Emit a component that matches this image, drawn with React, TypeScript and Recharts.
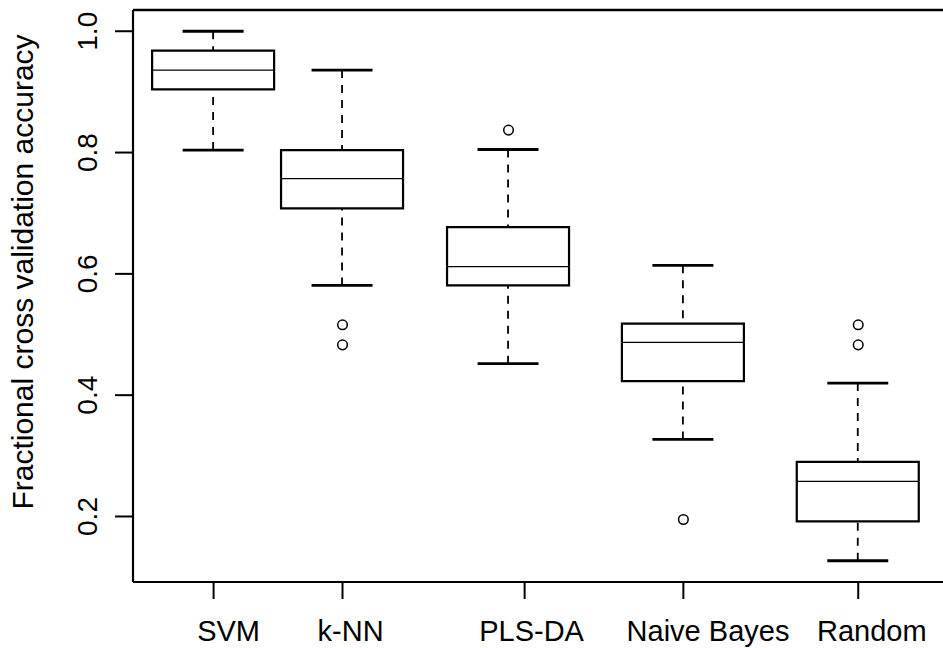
import {
  ComposedChart,
  Bar,
  Scatter,
  XAxis,
  YAxis,
  ReferenceLine,
} from 'recharts';

// methods and where they sit on the x axis (axis units, xlim starts at 0.5)
const categories = ['SVM', 'k-NN', 'PLS-DA', 'Naive Bayes', 'Random'];
const boxPos = [1, 1.8, 2.83, 3.915, 5];
const tickPos = [1, 1.8, 2.93, 3.915, 5];
const labelPos = [1.093, 1.85, 2.973, 4.068, 5.084];

// five-number summaries
const whiskerLow = [0.804, 0.581, 0.452, 0.327, 0.127];
const q1 = [0.904, 0.708, 0.581, 0.423, 0.192];
const median = [0.936, 0.757, 0.612, 0.487, 0.258];
const q3 = [0.968, 0.804, 0.677, 0.518, 0.29];
const whiskerHigh = [1.0, 0.936, 0.805, 0.614, 0.42];

// outliers per method
const outlierValues = [[], [0.516, 0.483], [0.837], [0.195], [0.516, 0.483]];

const yTicks = [0.2, 0.4, 0.6, 0.8, 1.0];
const xDomain = [0.5, 5.526];
const yDomain = [0.092, 1.035];

const FONT = '"Liberation Sans", Arial, Helvetica, sans-serif';

const boxData = categories.map((name, i) => ({
  name,
  x: boxPos[i],
  base: whiskerLow[i],
  lowWhisker: q1[i] - whiskerLow[i],
  lowBox: median[i] - q1[i],
  highBox: q3[i] - median[i],
  highWhisker: whiskerHigh[i] - q3[i],
}));

const outliers = outlierValues.flatMap((vals, i) =>
  vals.map((v) => ({ x: boxPos[i], y: v }))
);

const Empty = () => <g />;

const LowWhisker = (p: any) => {
  const cx = p.x + p.width / 2;
  const cap = p.width / 4;
  return (
    <g>
      <line x1={cx} y1={p.y + p.height} x2={cx} y2={p.y} stroke="#000" strokeWidth={1.8} strokeDasharray="8 7" />
      <line x1={cx - cap} y1={p.y + p.height} x2={cx + cap} y2={p.y + p.height} stroke="#000" strokeWidth={2.8} />
    </g>
  );
};

const HighWhisker = (p: any) => {
  const cx = p.x + p.width / 2;
  const cap = p.width / 4;
  return (
    <g>
      <line x1={cx} y1={p.y} x2={cx} y2={p.y + p.height} stroke="#000" strokeWidth={1.8} strokeDasharray="8 7" />
      <line x1={cx - cap} y1={p.y} x2={cx + cap} y2={p.y} stroke="#000" strokeWidth={2.8} />
    </g>
  );
};

const LowBox = (p: any) => {
  const { x, y, width: w, height: h } = p;
  return (
    <g>
      <path d={`M${x},${y} L${x},${y + h} L${x + w},${y + h} L${x + w},${y}`} fill="none" stroke="#000" strokeWidth={2.2} />
      <line x1={x} y1={y} x2={x + w} y2={y} stroke="#000" strokeWidth={1.3} />
    </g>
  );
};

const HighBox = (p: any) => {
  const { x, y, width: w, height: h } = p;
  return (
    <path d={`M${x},${y + h} L${x},${y} L${x + w},${y} L${x + w},${y + h}`} fill="none" stroke="#000" strokeWidth={2.2} />
  );
};

const Outlier = (p: any) => (
  <circle cx={p.cx} cy={p.cy} r={4.8} fill="none" stroke="#000" strokeWidth={1.5} />
);

const YTick = (p: any) => (
  <text
    x={p.x}
    y={p.y}
    transform={`rotate(-90, ${p.x}, ${p.y})`}
    textAnchor="middle"
    fontFamily={FONT}
    fontSize={28}
    fill="#000"
  >
    {p.payload.value.toFixed(1)}
  </text>
);

const XLabel = (p: any) => {
  const i = labelPos.indexOf(p.payload.value);
  return (
    <text x={p.x} y={p.y} dy={56} textAnchor="middle" fontFamily={FONT} fontSize={29} fill="#000">
      {categories[i]}
    </text>
  );
};

const YTitle = () => (
  <text
    x={33}
    y={272}
    transform="rotate(-90, 33, 272)"
    textAnchor="middle"
    fontFamily={FONT}
    fontSize={30}
    fill="#000"
  >
    Fractional cross validation accuracy
  </text>
);

export default function App() {
  return (
    <div style={{ position: 'absolute', left: 0, top: 0, width: 943, height: 648, overflow: 'hidden', background: '#fff' }}>
      <ComposedChart width={943} height={648} data={boxData} margin={{ top: 10, right: 0, bottom: 0, left: 0 }}>
        <XAxis
          dataKey="x"
          type="number"
          domain={xDomain}
          ticks={tickPos}
          allowDataOverflow
          height={1}
          tickSize={17}
          tick={<Empty />}
          axisLine={{ stroke: '#000', strokeWidth: 2.2 }}
          tickLine={{ stroke: '#000', strokeWidth: 2 }}
        />
        <XAxis
          xAxisId="lab"
          dataKey="x"
          type="number"
          domain={xDomain}
          ticks={labelPos}
          allowDataOverflow
          height={65}
          tickSize={0}
          tickMargin={2}
          axisLine={false}
          tickLine={false}
          tick={<XLabel />}
        />
        <YAxis
          type="number"
          domain={yDomain}
          ticks={yTicks}
          allowDataOverflow
          width={133}
          tickSize={18}
          tickMargin={18}
          axisLine={{ stroke: '#000', strokeWidth: 2.2 }}
          tickLine={{ stroke: '#000', strokeWidth: 2 }}
          tick={<YTick />}
          label={{ content: <YTitle /> }}
        />
        <ReferenceLine y={yDomain[1]} stroke="#000" strokeWidth={2.6} />
        <Bar dataKey="base" stackId="box" barSize={122} shape={<Empty />} isAnimationActive={false} />
        <Bar dataKey="lowWhisker" stackId="box" barSize={122} shape={<LowWhisker />} isAnimationActive={false} />
        <Bar dataKey="lowBox" stackId="box" barSize={122} shape={<LowBox />} isAnimationActive={false} />
        <Bar dataKey="highBox" stackId="box" barSize={122} shape={<HighBox />} isAnimationActive={false} />
        <Bar dataKey="highWhisker" stackId="box" barSize={122} shape={<HighWhisker />} isAnimationActive={false} />
        <Scatter data={outliers} dataKey="y" shape={<Outlier />} isAnimationActive={false} />
      </ComposedChart>
    </div>
  );
}
